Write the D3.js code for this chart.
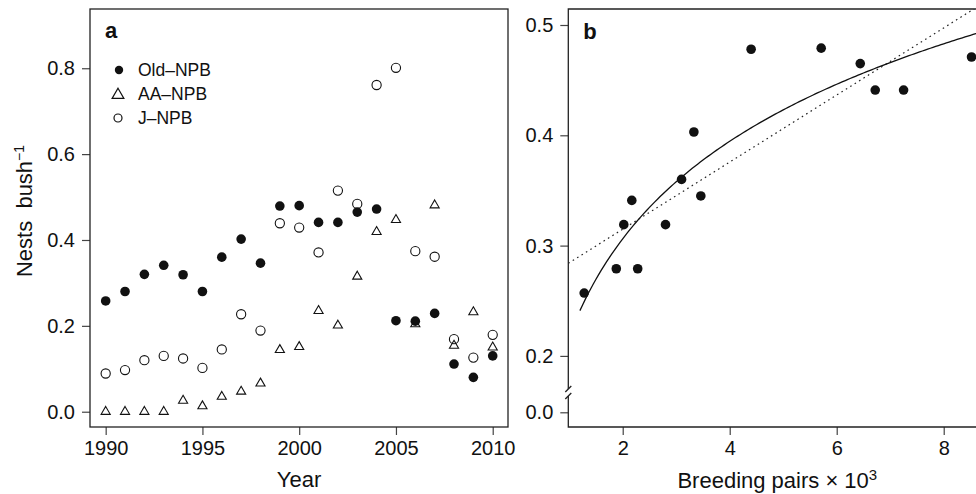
<!DOCTYPE html>
<html>
<head>
<meta charset="utf-8">
<script src="https://cdn.jsdelivr.net/npm/d3@7"></script>
<style>
body { margin: 0; background: #fff; }
text { font-family: "Liberation Sans", Arial, Helvetica, sans-serif; fill: #111; }
</style>
</head>
<body>
<div id="wrapper"></div>
<script>
// panel a: nests per bush by year
const years = [1990,1991,1992,1993,1994,1995,1996,1997,1998,1999,2000,2001,2002,2003,2004,2005,2006,2007,2008,2009,2010]
const oldNPB = [0.258,0.280,0.320,0.341,0.319,0.280,0.360,0.402,0.346,0.479,0.480,0.441,0.441,0.465,0.472,0.212,0.211,0.229,0.111,0.080,0.130]
const aaNPB  = [0,0,0,0,0.026,0.013,0.035,0.047,0.066,0.144,0.151,0.235,0.201,0.315,0.419,0.447,0.204,0.481,0.154,0.232,0.150]
const jNPB   = [0.089,0.097,0.120,0.130,0.124,0.102,0.145,0.227,0.189,0.439,0.429,0.371,0.515,0.484,0.761,0.801,0.374,0.361,0.169,0.126,0.179]
const seriesNames = ["Old\u2013NPB", "AA\u2013NPB", "J\u2013NPB"]
const yearTicks = [1990, 1995, 2000, 2005, 2010]
const nestTicksA = [0.0, 0.2, 0.4, 0.6, 0.8]

// panel b: nests per bush vs breeding pairs (x 10^3)
const pairs = [1.28,1.88,2.28,2.02,2.80,2.17,3.10,3.33,3.46,4.40,5.71,6.44,6.72,7.25,8.52]
const nestsB = [0.257,0.279,0.279,0.319,0.319,0.341,0.360,0.403,0.345,0.478,0.479,0.465,0.441,0.441,0.471]
const pairTicks = [2, 4, 6, 8]
const nestTicksB = [0.0, 0.2, 0.3, 0.4, 0.5]
const curveStart = 1.2

const W = 976, H = 494
const size = 418
const marginTop = 9
const leftA = 90, leftB = 568.3

const svg = d3.select("#wrapper").append("svg")
    .attr("width", W).attr("height", H)

// ---------- panel a ----------
const ga = svg.append("g").attr("transform", `translate(${leftA},${marginTop})`)

const xa = d3.scaleLinear().domain([1989.19, 2010.79]).range([0, size])
const ya = d3.scaleLinear().domain([-0.0356, 0.938]).range([size, 0])

ga.append("g")
    .attr("transform", `translate(0,${size})`)
    .call(d3.axisBottom(xa).tickValues(yearTicks).tickFormat(d3.format("d")).tickSize(8).tickPadding(6))
ga.append("g")
    .call(d3.axisLeft(ya).tickValues(nestTicksA).tickFormat(d3.format(".1f")).tickSize(8).tickPadding(7))

ga.append("rect").attr("width", size).attr("height", size)
    .attr("fill", "none").attr("stroke", "#222").attr("stroke-width", 1.3)

const rowsA = years.map((y, i) => ({year: y, old: oldNPB[i], aa: aaNPB[i], j: jNPB[i]}))

const tri = d3.symbol().type(d3.symbolTriangle).size(36)

ga.selectAll(".aa").data(rowsA).enter().append("path")
    .attr("class", "aa")
    .attr("d", tri)
    .attr("transform", d => `translate(${xa(d.year)},${ya(d.aa)})`)
    .attr("fill", "none").attr("stroke", "#111").attr("stroke-width", 1.1)

ga.selectAll(".jn").data(rowsA).enter().append("circle")
    .attr("class", "jn")
    .attr("cx", d => xa(d.year)).attr("cy", d => ya(d.j)).attr("r", 4.6)
    .attr("fill", "none").attr("stroke", "#111").attr("stroke-width", 1.1)

ga.selectAll(".old").data(rowsA).enter().append("circle")
    .attr("class", "old")
    .attr("cx", d => xa(d.year)).attr("cy", d => ya(d.old)).attr("r", 4.8)
    .attr("fill", "#111")

ga.append("text").attr("x", 15).attr("y", 29)
    .style("font-size", "22px").style("font-weight", "bold").text("a")

// legend
const lg = ga.append("g")
seriesNames.forEach((name, i) => {
    const cy = 61 + i * 24
    if (i === 0) lg.append("circle").attr("cx", 29).attr("cy", cy).attr("r", 4.2).attr("fill", "#111")
    if (i === 1) lg.append("path").attr("d", d3.symbol().type(d3.symbolTriangle).size(60))
        .attr("transform", `translate(28,${cy + 1})`)
        .attr("fill", "none").attr("stroke", "#111").attr("stroke-width", 1.2)
    if (i === 2) lg.append("circle").attr("cx", 28).attr("cy", cy).attr("r", 4)
        .attr("fill", "none").attr("stroke", "#111").attr("stroke-width", 1.2)
    lg.append("text").attr("x", 48).attr("y", cy + 6).style("font-size", "17.5px").text(name)
})

// axis titles
svg.append("text")
    .attr("transform", "translate(32,211) rotate(-90)")
    .attr("text-anchor", "middle")
    .style("font-size", "22px")
    .call(t => {
        t.append("tspan").text("Nests\u00a0\u00a0bush")
        t.append("tspan").attr("dy", -8).style("font-size", "14px").text("\u22121")
    })

svg.append("text").attr("x", leftA + size / 2).attr("y", 487)
    .attr("text-anchor", "middle").style("font-size", "22px").text("Year")

// ---------- panel b ----------
const gb = svg.append("g").attr("transform", `translate(${leftB},${marginTop})`)

const xb = d3.scaleLinear().domain([0.983, 8.796]).range([0, size])
// broken axis: 0.0 sits below the break, 0.17..0.5145 is the real scale
const yb = d3.scaleLinear()
    .domain([-0.0135, 0, 0.17, 0.5145])
    .range([size, size - 14.7, size - 38, 0])

gb.append("defs").append("clipPath").attr("id", "clipb")
    .append("rect").attr("width", size).attr("height", size)

const axB = gb.append("g")
    .attr("transform", `translate(0,${size})`)
    .call(d3.axisBottom(xb).tickValues(pairTicks).tickFormat(d3.format("d")).tickSize(8).tickPadding(6))
axB.select(".domain").remove()

const ayB = gb.append("g")
    .call(d3.axisLeft(yb).tickValues(nestTicksB).tickFormat(d3.format(".1f")).tickSize(8).tickPadding(7))
ayB.select(".domain").remove()

// box with break in left side
const brk = size - 37
const frame = gb.append("g").attr("stroke", "#222").attr("stroke-width", 1.3).attr("fill", "none")
frame.append("path").attr("d", `M${size},0H0V${brk - 1}`)
frame.append("path").attr("d", `M0,${brk + 6}V${size}H${size}V0`)
frame.append("line").attr("x1", -3).attr("y1", brk + 2).attr("x2", 3).attr("y2", brk - 4)
frame.append("line").attr("x1", -3).attr("y1", brk + 9).attr("x2", 3).attr("y2", brk + 3)

// fitted lines from the data
const lx = d3.mean(pairs), ly = d3.mean(nestsB)
const slope = d3.sum(pairs, (x, i) => (x - lx) * (nestsB[i] - ly)) / d3.sum(pairs, x => (x - lx) ** 2)
const icpt = ly - slope * lx
const logs = pairs.map(Math.log)
const mlx = d3.mean(logs)
const lslope = d3.sum(logs, (x, i) => (x - mlx) * (nestsB[i] - ly)) / d3.sum(logs, x => (x - mlx) ** 2)
const licpt = ly - lslope * mlx

const plot = gb.append("g").attr("clip-path", "url(#clipb)")

const xdom = xb.domain()
plot.append("line")
    .attr("x1", xb(xdom[0])).attr("y1", yb(icpt + slope * xdom[0]))
    .attr("x2", xb(xdom[1])).attr("y2", yb(icpt + slope * xdom[1]))
    .attr("stroke", "#222").attr("stroke-width", 1.2).attr("stroke-dasharray", "1.6,3.6")

const curvePts = d3.range(curveStart, xdom[1] + 0.05, 0.05)
plot.append("path")
    .datum(curvePts)
    .attr("d", d3.line().x(d => xb(d)).y(d => yb(licpt + lslope * Math.log(d))))
    .attr("fill", "none").attr("stroke", "#111").attr("stroke-width", 1.3)

plot.selectAll(".pb").data(pairs).enter().append("circle")
    .attr("class", "pb")
    .attr("cx", d => xb(d)).attr("cy", (d, i) => yb(nestsB[i])).attr("r", 4.8)
    .attr("fill", "#111")

gb.append("text").attr("x", 15).attr("y", 30)
    .style("font-size", "22px").style("font-weight", "bold").text("b")

svg.append("text").attr("x", leftB + size / 2).attr("y", 488)
    .attr("text-anchor", "middle").style("font-size", "22px")
    .call(t => {
        t.append("tspan").text("Breeding pairs \u00d7 10")
        t.append("tspan").attr("dy", -8).style("font-size", "15px").text("3")
    })

// shared axis styling
svg.selectAll(".tick text").style("font-size", "20px").style("font-family", "\"Liberation Sans\", Arial, sans-serif").attr("fill", "#111")
svg.selectAll(".tick line").attr("stroke", "#444").attr("stroke-width", 1.2)
svg.selectAll(".domain").attr("stroke", "none")
</script>
</body>
</html>
